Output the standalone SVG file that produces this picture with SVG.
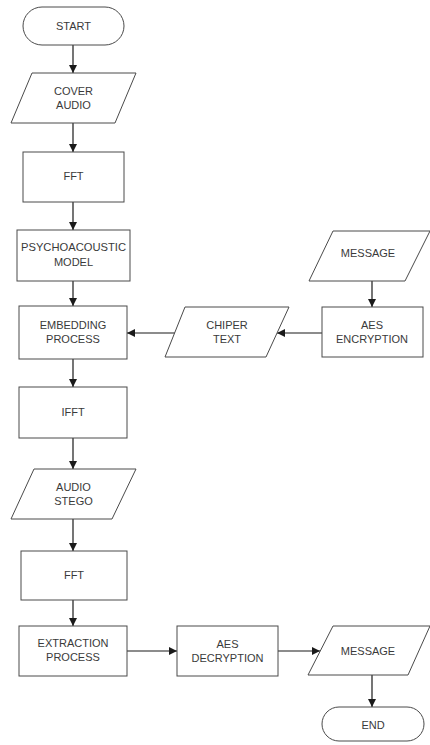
<svg xmlns="http://www.w3.org/2000/svg" width="430" height="745" viewBox="0 0 430 745">
<defs>
<style>
.shape{fill:#ffffff;stroke:#4a4a4a;stroke-width:1}
.t{font-family:"Liberation Sans",Arial,sans-serif;font-size:11px;fill:#3a3a3a;text-anchor:middle}
.c{stroke:#1a1a1a;stroke-width:1.2;fill:none;marker-end:url(#ah)}
</style>
<marker id="ah" markerUnits="userSpaceOnUse" markerWidth="9" markerHeight="8" refX="8" refY="4" orient="auto">
<path d="M0,0 L8,4 L0,8 Z" fill="#1a1a1a"/>
</marker>
</defs>
<rect width="430" height="745" fill="#ffffff"/>
<g id="connectors">
<line class="c" x1="73" y1="45" x2="73" y2="73"/>
<line class="c" x1="73" y1="123" x2="73" y2="152"/>
<line class="c" x1="73" y1="202" x2="73" y2="230"/>
<line class="c" x1="73" y1="281" x2="73" y2="306"/>
<line class="c" x1="372" y1="281" x2="372" y2="307"/>
<line class="c" x1="322" y1="333" x2="277" y2="333"/>
<line class="c" x1="176" y1="333" x2="127" y2="333"/>
<line class="c" x1="73" y1="359" x2="73" y2="387"/>
<line class="c" x1="73" y1="438" x2="73" y2="469"/>
<line class="c" x1="73" y1="519" x2="73" y2="551"/>
<line class="c" x1="73" y1="600" x2="73" y2="626"/>
<line class="c" x1="127" y1="651" x2="177" y2="651"/>
<line class="c" x1="278" y1="651" x2="320" y2="651"/>
<line class="c" x1="372" y1="675" x2="372" y2="707"/>
</g>
<g id="start">
<rect class="shape" x="23" y="7" width="101" height="38" rx="19"/>
<text class="t" x="73.5" y="30">START</text>
</g>
<g id="cover-audio">
<polygon class="shape" points="32,73 136,73 115,123 11,123"/>
<text class="t" x="73.5" y="95">COVER</text>
<text class="t" x="73.5" y="108.5">AUDIO</text>
</g>
<g id="fft1">
<rect class="shape" x="23" y="152" width="101" height="50"/>
<text class="t" x="73.5" y="180">FFT</text>
</g>
<g id="psychoacoustic">
<rect class="shape" x="17" y="230" width="113" height="51"/>
<text class="t" x="73.5" y="251" textLength="105" lengthAdjust="spacingAndGlyphs">PSYCHOACOUSTIC</text>
<text class="t" x="73.5" y="266">MODEL</text>
</g>
<g id="embedding">
<rect class="shape" x="19" y="306" width="108" height="53"/>
<text class="t" x="73" y="329">EMBEDDING</text>
<text class="t" x="73" y="342.5">PROCESS</text>
</g>
<g id="chiper-text">
<polygon class="shape" points="185,307 289,307 266,357 165,357"/>
<text class="t" x="227" y="329">CHIPER</text>
<text class="t" x="227" y="343">TEXT</text>
</g>
<g id="aes-encryption">
<rect class="shape" x="322" y="307" width="101" height="50"/>
<text class="t" x="372" y="329">AES</text>
<text class="t" x="372" y="342.5">ENCRYPTION</text>
</g>
<g id="message-in">
<polygon class="shape" points="333,231 430,231 405,281 309,281"/>
<text class="t" x="368" y="257">MESSAGE</text>
</g>
<g id="ifft">
<rect class="shape" x="19" y="387" width="108" height="51"/>
<text class="t" x="73" y="416">IFFT</text>
</g>
<g id="audio-stego">
<polygon class="shape" points="34,469 136,469 112,519 11,519"/>
<text class="t" x="73.5" y="491">AUDIO</text>
<text class="t" x="73.5" y="504.5">STEGO</text>
</g>
<g id="fft2">
<rect class="shape" x="21" y="551" width="106" height="49"/>
<text class="t" x="74" y="579">FFT</text>
</g>
<g id="extraction">
<rect class="shape" x="19" y="626" width="108" height="50"/>
<text class="t" x="73" y="647">EXTRACTION</text>
<text class="t" x="73" y="661">PROCESS</text>
</g>
<g id="aes-decryption">
<rect class="shape" x="177" y="626" width="101" height="50"/>
<text class="t" x="227.5" y="648">AES</text>
<text class="t" x="227.5" y="661.5">DECRYPTION</text>
</g>
<g id="message-out">
<polygon class="shape" points="333,626 430,626 408,675 308,675"/>
<text class="t" x="368" y="655">MESSAGE</text>
</g>
<g id="end">
<rect class="shape" x="322" y="707" width="102" height="34" rx="17"/>
<text class="t" x="373" y="729">END</text>
</g>
</svg>
